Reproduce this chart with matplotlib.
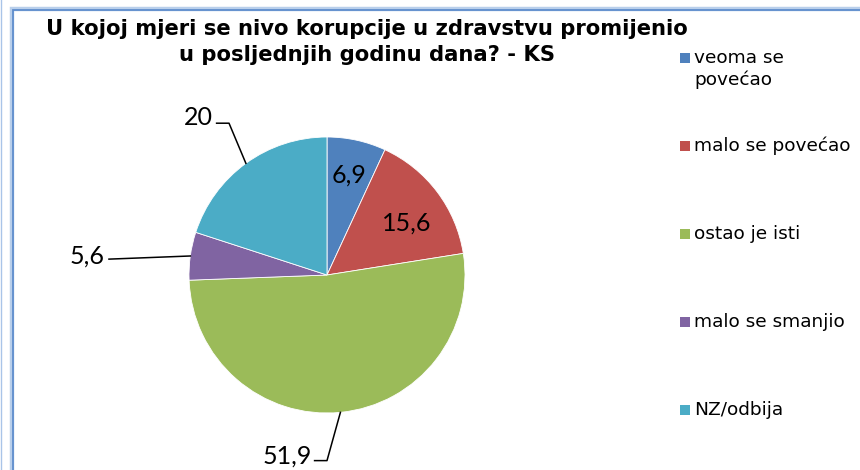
import numpy as np
import matplotlib
matplotlib.use("Agg")
import matplotlib.pyplot as plt
from matplotlib.patches import Rectangle

W, H = 860, 470

categories = ["veoma se\npovećao", "malo se povećao", "ostao je isti",
              "malo se smanjio", "NZ/odbija"]
values = [6.9, 15.6, 51.9, 5.6, 20]
value_labels = ["6,9", "15,6", "51,9", "5,6", "20"]
colors = ["#4F81BD", "#C0504D", "#9BBB59", "#8064A2", "#4BACC6"]

title = "U kojoj mjeri se nivo korupcije u zdravstvu promijenio\nu posljednjih godinu dana? - KS"


def fx(x):
    return x / W


def fy(y):
    return 1 - y / H


fig = plt.figure(figsize=(W / 100, H / 100), dpi=100)
fig.patch.set_facecolor("white")

# chart area border (runs off the right/bottom edge)
fig.patches.append(Rectangle((fx(12), -0.1), 1.2, fy(9) + 0.1,
                             transform=fig.transFigure, fill=False,
                             edgecolor="#B9CFEB", linewidth=3.2, zorder=0))
fig.patches.append(Rectangle((fx(13), -0.1), 1.2, fy(10) + 0.1,
                             transform=fig.transFigure, fill=False,
                             edgecolor="#5F8DCC", linewidth=1.3, zorder=1))
fig.lines.append(plt.Line2D([fx(0.7), fx(0.7)], [0, 1], transform=fig.transFigure,
                            color="#A9C4E8", linewidth=1.0))

# pie: centre (327, 275) px, radius 138 px
cx, cy, r = 327, 275, 138
ax = fig.add_axes([fx(cx - r), fy(cy + r), 2 * r / W, 2 * r / H])

wedges, _ = ax.pie(values, colors=colors, startangle=90, counterclock=False,
                   radius=1, wedgeprops=dict(edgecolor="white", linewidth=0.6))
ax.set_xlim(-1, 1)
ax.set_ylim(-1, 1)
ax.set_aspect("equal")
ax.axis("off")

label_font = dict(family="Lato", fontsize=18, color="black")

# mid angle of every slice
mids = []
for w in wedges:
    mids.append(np.deg2rad((w.theta1 + w.theta2) / 2))

# labels inside the slices: distance from centre, extra vertical shift
inside = {0: (0.76, -0.02), 1: (0.72, -0.06)}
for i, (rr, dy) in inside.items():
    a = mids[i]
    ax.text(rr * np.cos(a), rr * np.sin(a) + dy, value_labels[i],
            ha="center", va="center", **label_font)

# labels outside with leader lines: text centre, line start, elbow
outside = {
    2: ((-0.29, -1.31), (-0.09, -1.345), (0.0, -1.345)),
    3: ((-1.74, 0.14), (-1.58, 0.115), (-1.58, 0.115)),
    4: ((-0.93, 1.14), (-0.80, 1.10), (-0.71, 1.10)),
}
for i, (tpos, start, elbow) in outside.items():
    a = mids[i]
    end = (np.cos(a), np.sin(a))
    ax.text(tpos[0], tpos[1], value_labels[i], ha="center", va="center",
            **label_font)
    ax.plot([start[0], elbow[0], end[0]], [start[1], elbow[1], end[1]],
            color="black", linewidth=1.1, clip_on=False)

# title
fig.text(fx(367), fy(42), title, ha="center", va="center", family="DejaVu Sans",
         fontweight="bold", fontsize=15.2, linespacing=1.32)

# legend, one text per line so the marker sits on the first line
leg_y = [58, 146, 234, 322, 410]
for lab, col, y in zip(categories, colors, leg_y):
    fig.patches.append(Rectangle((fx(680), fy(y + 5)), 10 / W, 10 / H,
                                 transform=fig.transFigure, facecolor=col,
                                 edgecolor="none"))
    for k, line in enumerate(lab.split("\n")):
        fig.text(fx(694), fy(y + 5 + 22 * k), line, ha="left", va="baseline",
                 family="DejaVu Sans", fontsize=13.3)

fig.savefig("out.png", dpi=100)
